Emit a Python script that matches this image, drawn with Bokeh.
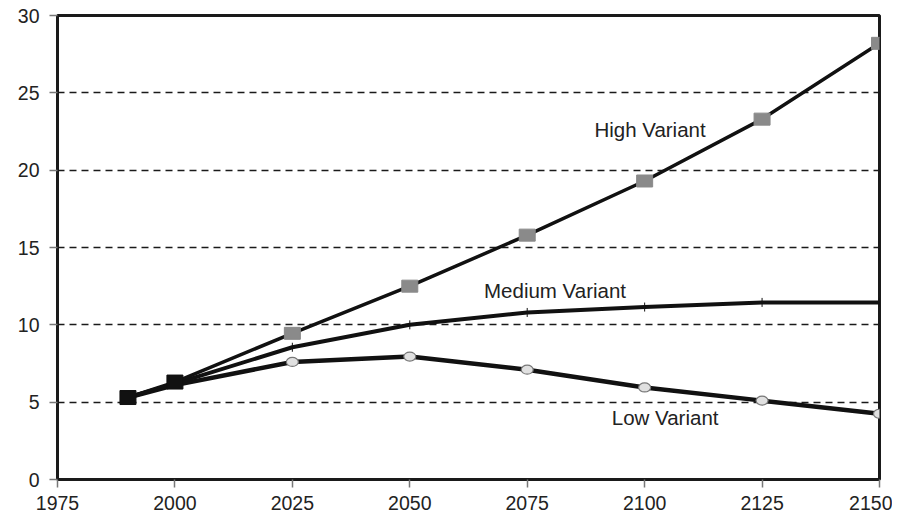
from bokeh.plotting import figure
from bokeh.models import Range1d, FixedTicker, Label
from bokeh.embed import file_html
from bokeh.resources import INLINE

years = [1990, 2000, 2025, 2050, 2075, 2100, 2125, 2150]
high = [5.3, 6.3, 9.45, 12.5, 15.8, 19.3, 23.3, 28.2]
medium = [5.3, 6.2, 8.55, 10.0, 10.8, 11.15, 11.45, 11.45]
low = [5.3, 6.1, 7.6, 7.95, 7.1, 5.95, 5.1, 4.25]
x_ticks = [1975, 2000, 2025, 2050, 2075, 2100, 2125, 2150]
y_ticks = [0, 5, 10, 15, 20, 25, 30]
grid_ticks = [5, 10, 15, 20, 25]
labels = ["High Variant", "Medium Variant", "Low Variant"]

FONT = "Liberation Sans"

p = figure(width=892, height=522, output_backend="svg", toolbar_location=None,
           x_range=Range1d(1975, 2150), y_range=Range1d(0, 30),
           min_border_left=57, min_border_right=13, min_border_top=15, min_border_bottom=43)
p.outline_line_color = "#1a1a1a"
p.outline_line_width = 3
p.background_fill_color = "white"
p.border_fill_color = "white"

p.xgrid.visible = False
p.ygrid.ticker = FixedTicker(ticks=grid_ticks)
p.ygrid.grid_line_color = "#1a1a1a"
p.ygrid.grid_line_width = 1.3
p.ygrid.grid_line_dash = "7 5"

for ax, ticks in ((p.xaxis[0], x_ticks), (p.yaxis[0], y_ticks)):
    ax.ticker = FixedTicker(ticks=ticks)
    ax.axis_line_color = "#1a1a1a"
    ax.axis_line_width = 3
    ax.major_tick_in = 0
    ax.major_tick_out = 8
    ax.major_tick_line_color = "#777777"
    ax.major_tick_line_width = 1.5
    ax.minor_tick_line_color = None
    ax.major_label_text_font = FONT
    ax.major_label_text_font_size = "19.5px"
    ax.major_label_text_color = "#222222"
p.xaxis.major_label_standoff = 8
p.yaxis.major_label_standoff = 10

# lines
p.line(years, low, line_color="#111111", line_width=4.5)
p.line(years, medium, line_color="#111111", line_width=4)
p.line(years, high, line_color="#111111", line_width=3.5)

# markers
p.ellipse(years[2:], low[2:], width=12, height=9, width_units="screen", height_units="screen",
          fill_color="#e0e0e0", line_color="#777777", line_width=1.2)
p.scatter(years[2:], medium[2:], marker="dash", angle=1.5708, size=9,
          line_color="#111111", line_width=1)
p.rect(years[2:], high[2:], width=16, height=12, width_units="screen", height_units="screen",
       fill_color="#8a8a8a", line_color="#8a8a8a")
p.rect(years[:2], high[:2], width=16, height=14, width_units="screen", height_units="screen",
       fill_color="#111111", line_color="#111111")

label_pos = [(2089.3, 22.6), (2065.8, 12.2), (2093.0, 4.0)]
for txt, (lx, ly) in zip(labels, label_pos):
    p.add_layout(Label(x=lx, y=ly, text=txt, text_font=FONT, text_font_size="20.5px",
                       text_color="#222222", text_baseline="middle", text_align="left"))

open("out.html", "w").write(file_html(p, INLINE))
